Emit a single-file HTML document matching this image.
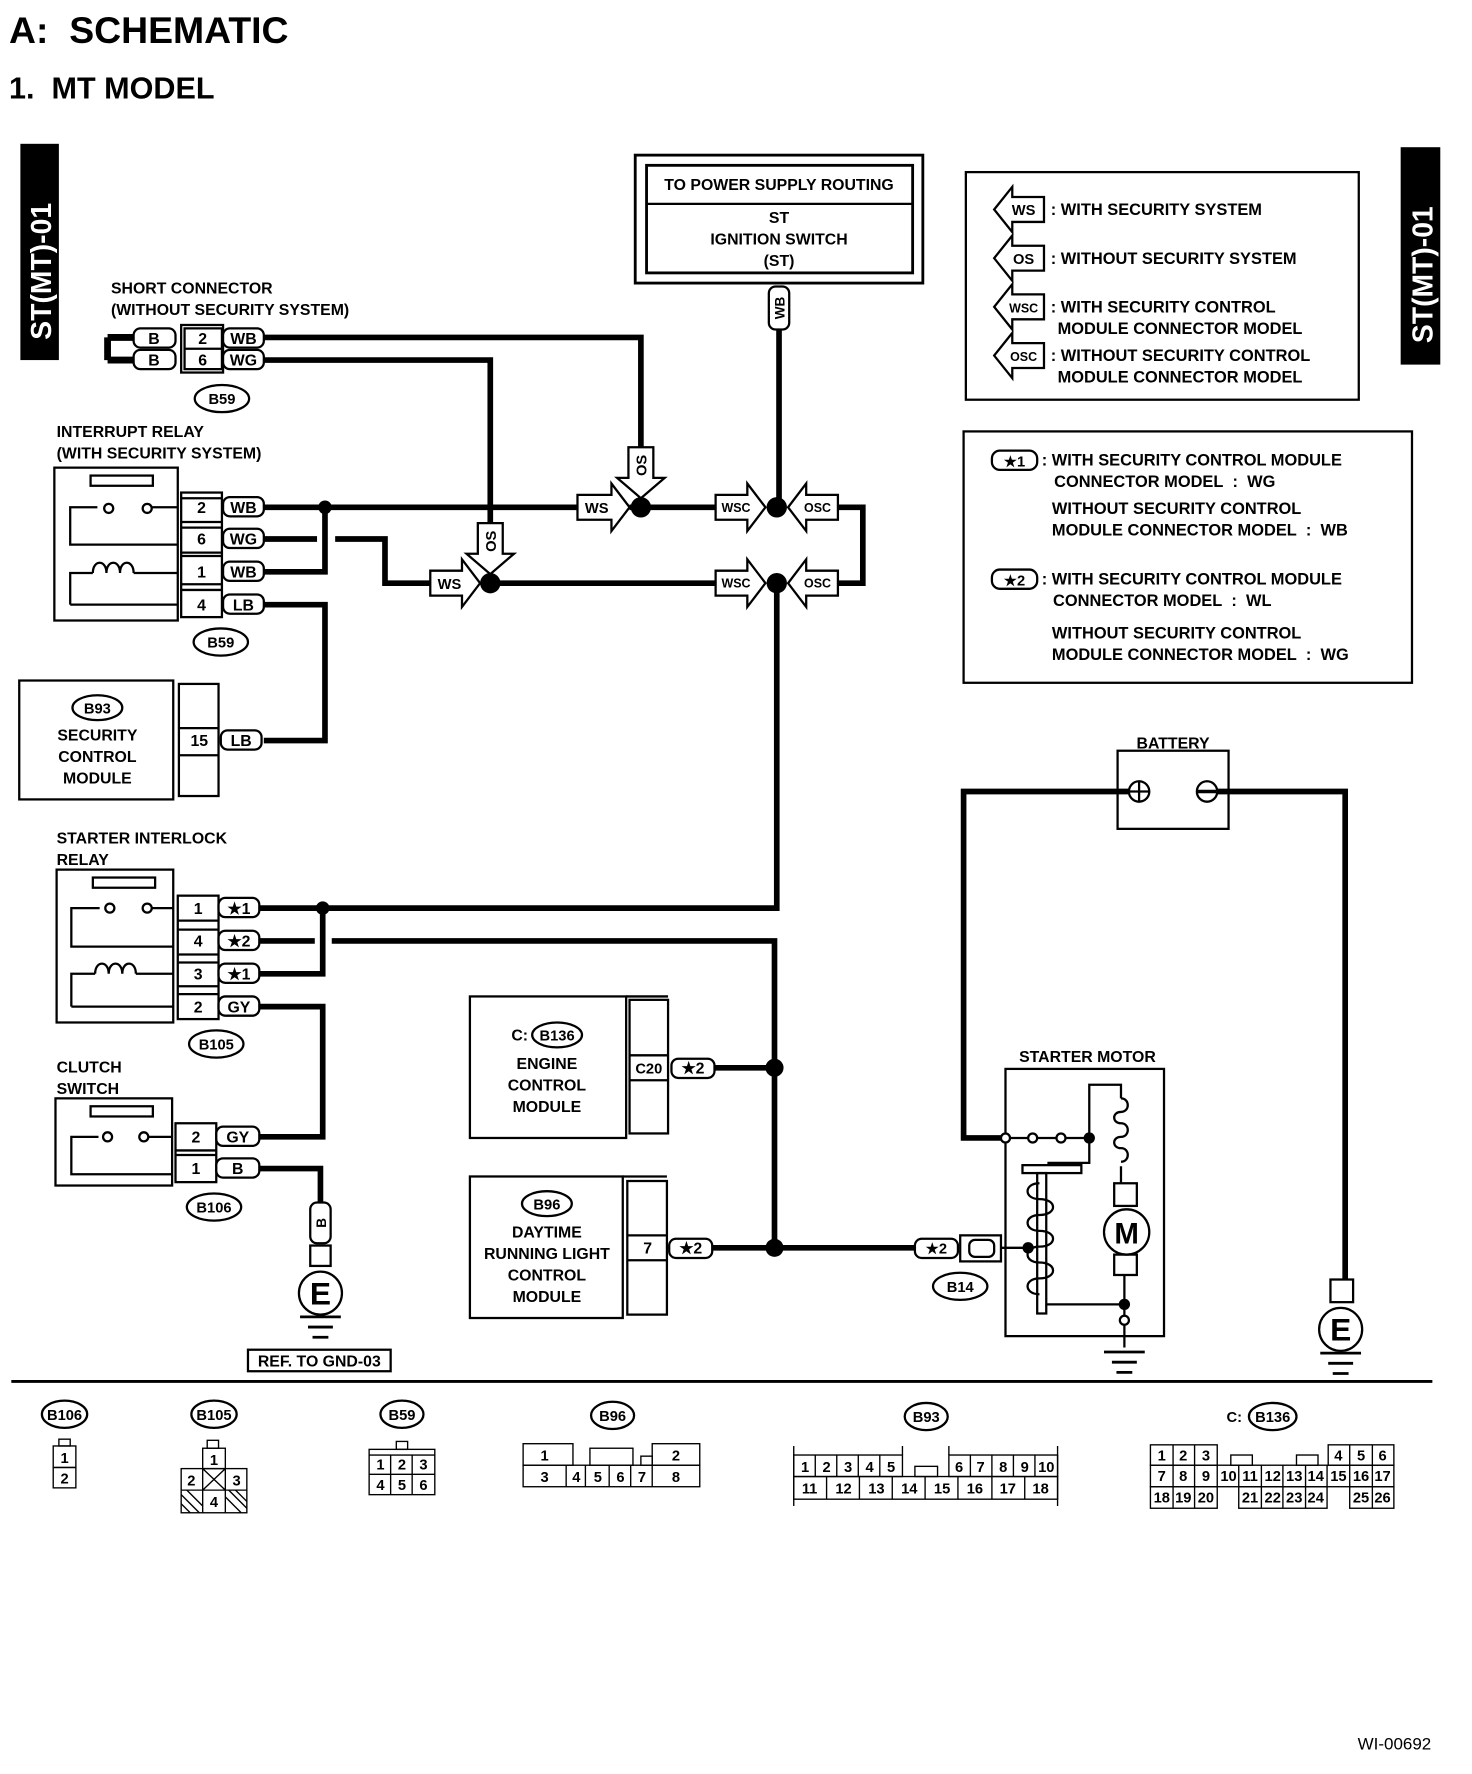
<!DOCTYPE html>
<html><head><meta charset="utf-8"><style>
html,body{margin:0;padding:0;background:#fff}
svg{display:block}
text{font-family:"Liberation Sans",Arial,sans-serif;font-weight:bold;fill:#000}
</style></head><body>
<svg width="1472" height="1774" viewBox="0 0 1300 1566.7" xmlns="http://www.w3.org/2000/svg">
<rect width="1300" height="1567" fill="#fff"/>
<text x="8" y="38" font-size="33">A:&#160; SCHEMATIC</text>
<text x="8" y="87" font-size="27">1.&#160; MT MODEL</text>

<!-- side tabs -->
<rect x="18" y="127" width="34" height="191" fill="#000"/>
<text transform="translate(45,300) rotate(-90)" font-size="25" style="fill:#fff">ST(MT)-01</text>
<rect x="1237" y="130" width="35" height="192" fill="#000"/>
<text transform="translate(1265,303) rotate(-90)" font-size="25" style="fill:#fff">ST(MT)-01</text>

<g fill="none" stroke="#000">
<rect x="561" y="137" width="254" height="113" stroke-width="2.5"/>
<rect x="571" y="146" width="235" height="95" stroke-width="2.5"/>
<line x1="571" y1="180" x2="806" y2="180" stroke-width="2"/>
<rect x="853" y="152" width="347" height="201" stroke-width="2"/>
<rect x="851" y="381" width="396" height="222" stroke-width="2"/>
</g>
<text x="688" y="168" font-size="14" text-anchor="middle">TO POWER SUPPLY ROUTING</text>
<text x="688" y="197" font-size="14" text-anchor="middle">ST</text>
<text x="688" y="216" font-size="14" text-anchor="middle">IGNITION SWITCH</text>
<text x="688" y="235" font-size="14" text-anchor="middle">(ST)</text>

<!-- legend 1 -->
<g fill="#fff" stroke="#000" stroke-width="2">
<path d="M922,174 H894 V165 L878,185 L894,205 V196 H922 Z"/>
<path d="M922,217 H894 V208 L878,228 L894,248 V239 H922 Z"/>
<path d="M922,260 H894 V251 L878,271 L894,291 V282 H922 Z"/>
<path d="M922,303 H894 V294 L878,314 L894,334 V325 H922 Z"/>
</g>
<text x="904" y="190" font-size="13" text-anchor="middle">WS</text>
<text x="904" y="233" font-size="13" text-anchor="middle">OS</text>
<text x="904" y="276" font-size="11" text-anchor="middle">WSC</text>
<text x="904" y="319" font-size="11" text-anchor="middle">OSC</text>
<g font-size="14.5">
<text x="928" y="190">: WITH SECURITY SYSTEM</text>
<text x="928" y="233">: WITHOUT SECURITY SYSTEM</text>
<text x="928" y="276">: WITH SECURITY CONTROL</text>
<text x="934" y="295">MODULE CONNECTOR MODEL</text>
<text x="928" y="319">: WITHOUT SECURITY CONTROL</text>
<text x="934" y="338">MODULE CONNECTOR MODEL</text>
</g>
<!-- legend 2 -->
<rect x="876" y="398" width="40" height="17" rx="7" fill="none" stroke="#000" stroke-width="2"/>
<text x="896" y="412" font-size="13" text-anchor="middle">★1</text>
<rect x="876" y="503" width="40" height="17" rx="7" fill="none" stroke="#000" stroke-width="2"/>
<text x="896" y="517" font-size="13" text-anchor="middle">★2</text>
<g font-size="14.5">
<text x="920" y="411">: WITH SECURITY CONTROL MODULE</text>
<text x="931" y="430">CONNECTOR MODEL&#160; :&#160; WG</text>
<text x="929" y="454">WITHOUT SECURITY CONTROL</text>
<text x="929" y="473">MODULE CONNECTOR MODEL&#160; :&#160; WB</text>
<text x="920" y="516">: WITH SECURITY CONTROL MODULE</text>
<text x="930" y="535">CONNECTOR MODEL&#160; :&#160; WL</text>
<text x="929" y="564">WITHOUT SECURITY CONTROL</text>
<text x="929" y="583">MODULE CONNECTOR MODEL&#160; :&#160; WG</text>
</g>

<!-- wires -->
<g fill="none" stroke="#000" stroke-width="5" stroke-linejoin="miter">
<path d="M688,290 V448"/>
<path d="M233,298 H566 V400"/>
<path d="M233,318 H433 V465"/>
<path d="M233,448 H510 M556,448 H632 M740,448 H762 V515 H740"/>
<path d="M233,476 H280 M296,476 H340 V515 H380"/>
<path d="M433,515 H632"/>
<path d="M233,505 H287 V448"/>
<path d="M233,534 H287 V654 H233"/>
<path d="M686,515 V802 H229"/>
<path d="M229,860 H285 V802"/>
<path d="M229,831 H278 M293,831 H684 V1102 H808"/>
<path d="M631,943 H684 M629,1102 H684"/>
<path d="M229,889 H285 V1004 H229"/>
<path d="M229,1032 H283 V1062"/>
<path d="M1000,699 H851 V1005 H888"/>
<path d="M1072,699 H1188 V1130"/>
<path d="M95,298 V318 M95,298 H118 M95,318 H118" stroke-width="6"/>
</g>
<g fill="#000">
<circle cx="287" cy="448" r="6"/><circle cx="566" cy="448" r="9"/><circle cx="686" cy="448" r="9"/>
<circle cx="433" cy="515" r="9"/><circle cx="686" cy="515" r="9"/>
<circle cx="285" cy="802" r="6"/><circle cx="684" cy="943" r="8"/><circle cx="684" cy="1102" r="8"/>
</g>

<!-- arrows -->
<g fill="#fff" stroke="#000" stroke-width="2">
<path d="M510,437 H540 V427 L556,448 L540,469 V459 H510 Z"/>
<path d="M632,437 H660 V427 L676,448 L660,469 V459 H632 Z"/>
<path d="M740,437 H712 V427 L696,448 L712,469 V459 H740 Z"/>
<path d="M380,504 H408 V494 L424,515 L408,536 V526 H380 Z"/>
<path d="M632,504 H660 V494 L676,515 L660,536 V526 H632 Z"/>
<path d="M740,504 H712 V494 L696,515 L712,536 V526 H740 Z"/>
<path d="M555,395 V422 H545 L566,440 L587,422 H577 V395 Z"/>
<path d="M422,462 V489 H412 L433,507 L454,489 H444 V462 Z"/>
</g>
<g font-size="13" text-anchor="middle">
<text x="527" y="453">WS</text><text x="397" y="520">WS</text>
<text x="650" y="452" font-size="11">WSC</text><text x="650" y="519" font-size="11">WSC</text>
<text x="722" y="452" font-size="11">OSC</text><text x="722" y="519" font-size="11">OSC</text>
<text transform="translate(571,411) rotate(-90)" text-anchor="middle">OS</text>
<text transform="translate(438,478) rotate(-90)" text-anchor="middle">OS</text>
</g>

<rect x="679" y="253" width="18" height="38" rx="6" fill="#fff" stroke="#000" stroke-width="2"/>
<text transform="translate(693,272) rotate(-90)" font-size="12" text-anchor="middle">WB</text>

<!-- short connector -->
<text x="98" y="259" font-size="14">SHORT CONNECTOR</text>
<text x="98" y="278" font-size="14">(WITHOUT SECURITY SYSTEM)</text>
<g fill="#fff" stroke="#000" stroke-width="2">
<rect x="118" y="290" width="37" height="17" rx="6"/><rect x="118" y="309" width="37" height="17" rx="6"/>
<rect x="160" y="287" width="37" height="42"/><rect x="163" y="290" width="33" height="36"/>
<line x1="163" y1="308" x2="196" y2="308"/>
<rect x="197" y="290" width="36" height="17" rx="6"/><rect x="197" y="309" width="36" height="17" rx="6"/>
<ellipse cx="196" cy="352" rx="24" ry="12"/>
</g>
<g font-size="14" text-anchor="middle">
<text x="136" y="304">B</text><text x="136" y="323">B</text>
<text x="179" y="304">2</text><text x="179" y="323">6</text>
<text x="215" y="304">WB</text><text x="215" y="323">WG</text>
<text x="196" y="357" font-size="13">B59</text>
</g>

<!-- interrupt relay -->
<text x="50" y="386" font-size="14">INTERRUPT RELAY</text>
<text x="50" y="405" font-size="14">(WITH SECURITY SYSTEM)</text>
<g fill="none" stroke="#000" stroke-width="2">
<rect x="48" y="413" width="109" height="135"/>
<rect x="80" y="420" width="55" height="9"/>
<path d="M86,448 H62 V481 H157 M131,448 H157"/>
<path d="M62,534 V506 H82 M118,506 H157 M62,534 H157"/>
<path d="M82,506 c0,-12 12,-12 12,0 c0,-12 12,-12 12,0 c0,-12 12,-12 12,0"/>
<circle cx="96" cy="449" r="4" fill="#fff"/><circle cx="130" cy="449" r="4" fill="#fff"/>
<rect x="160" y="435" width="36" height="110"/>
<path d="M160,440 H196 M160,461 H196 M160,466 H196 M160,488 H196 M160,491 H196 M160,516 H196 M160,521 H196"/>
</g>
<g fill="#fff" stroke="#000" stroke-width="2">
<rect x="197" y="439" width="36" height="17" rx="6"/><rect x="197" y="467" width="36" height="17" rx="6"/>
<rect x="197" y="496" width="36" height="17" rx="6"/><rect x="197" y="525" width="36" height="17" rx="6"/>
<ellipse cx="195" cy="567" rx="24" ry="12"/>
</g>
<g font-size="14" text-anchor="middle">
<text x="178" y="453">2</text><text x="178" y="481">6</text><text x="178" y="510">1</text><text x="178" y="539">4</text>
<text x="215" y="453">WB</text><text x="215" y="481">WG</text><text x="215" y="510">WB</text><text x="215" y="539">LB</text>
<text x="195" y="572" font-size="13">B59</text>
</g>

<!-- security control module -->
<g fill="none" stroke="#000" stroke-width="2">
<rect x="17" y="601" width="136" height="105"/>
<rect x="158" y="604" width="35" height="99"/>
<path d="M158,643 H193 M158,667 H193"/>
<ellipse cx="86" cy="625" rx="22" ry="11"/>
</g>
<rect x="195" y="645" width="36" height="17" rx="6" fill="#fff" stroke="#000" stroke-width="2"/>
<g font-size="14" text-anchor="middle">
<text x="86" y="630" font-size="13">B93</text>
<text x="86" y="654">SECURITY</text><text x="86" y="673">CONTROL</text><text x="86" y="692">MODULE</text>
<text x="176" y="659">15</text><text x="213" y="659">LB</text>
</g>

<!-- starter interlock relay -->
<text x="50" y="745" font-size="14">STARTER INTERLOCK</text>
<text x="50" y="764" font-size="14">RELAY</text>
<g fill="none" stroke="#000" stroke-width="2">
<rect x="50" y="768" width="103" height="135"/>
<rect x="82" y="775" width="55" height="9"/>
<path d="M88,802 H63 V836 H153 M133,802 H153"/>
<path d="M63,889 V860 H84 M120,860 H153 M63,889 H153"/>
<path d="M84,860 c0,-12 12,-12 12,0 c0,-12 12,-12 12,0 c0,-12 12,-12 12,0"/>
<circle cx="97" cy="802" r="4" fill="#fff"/><circle cx="130" cy="802" r="4" fill="#fff"/>
<rect x="157" y="791" width="36" height="109"/>
<path d="M157,813 H193 M157,821 H193 M157,843 H193 M157,850 H193 M157,871 H193 M157,878 H193"/>
</g>
<g fill="#fff" stroke="#000" stroke-width="2">
<rect x="193" y="793" width="36" height="17" rx="6"/><rect x="193" y="822" width="36" height="17" rx="6"/>
<rect x="193" y="851" width="36" height="17" rx="6"/><rect x="193" y="880" width="36" height="17" rx="6"/>
<ellipse cx="191" cy="922" rx="24" ry="12"/>
</g>
<g font-size="14" text-anchor="middle">
<text x="175" y="807">1</text><text x="175" y="836">4</text><text x="175" y="865">3</text><text x="175" y="894">2</text>
<text x="211" y="807">★1</text><text x="211" y="836">★2</text><text x="211" y="865">★1</text><text x="211" y="894">GY</text>
<text x="191" y="927" font-size="13">B105</text>
</g>

<!-- clutch switch -->
<text x="50" y="947" font-size="14">CLUTCH</text>
<text x="50" y="966" font-size="14">SWITCH</text>
<g fill="none" stroke="#000" stroke-width="2">
<rect x="49" y="970" width="103" height="77"/>
<rect x="80" y="977" width="55" height="9"/>
<path d="M87,1004 H63 V1037 H152 M131,1004 H152"/>
<circle cx="95" cy="1004" r="4" fill="#fff"/><circle cx="127" cy="1004" r="4" fill="#fff"/>
<rect x="155" y="992" width="36" height="52"/>
<path d="M155,1016 H191 M155,1020 H191"/>
</g>
<g fill="#fff" stroke="#000" stroke-width="2">
<rect x="191" y="995" width="38" height="17" rx="6"/><rect x="191" y="1023" width="38" height="17" rx="6"/>
<ellipse cx="189" cy="1066" rx="24" ry="12"/>
<rect x="274" y="1062" width="18" height="36" rx="6"/>
<rect x="274" y="1100" width="18" height="18"/>
<circle cx="283" cy="1142" r="19"/>
</g>
<g font-size="14" text-anchor="middle">
<text x="173" y="1009">2</text><text x="173" y="1037">1</text>
<text x="210" y="1009">GY</text><text x="210" y="1037">B</text>
<text x="189" y="1071" font-size="13">B106</text>
<text transform="translate(288,1080) rotate(-90)" font-size="12" text-anchor="middle">B</text>
<text x="283" y="1152" font-size="28">E</text>
</g>
<g stroke="#000" stroke-width="2.5">
<path d="M265,1163 H301 M272,1172 H294 M276,1181 H290"/>
</g>
<rect x="219" y="1192" width="126" height="19" fill="none" stroke="#000" stroke-width="2"/>
<text x="282" y="1207" font-size="14" text-anchor="middle">REF. TO GND-03</text>

<!-- ECM / DRL -->
<g fill="none" stroke="#000" stroke-width="2">
<rect x="415" y="880" width="138" height="125"/>
<rect x="556" y="883" width="34" height="118"/>
<path d="M553,880 H590 M556,932 H590 M556,954 H590"/>
<ellipse cx="492" cy="914" rx="22" ry="11"/>
<rect x="415" y="1039" width="135" height="125"/>
<rect x="554" y="1043" width="35" height="118"/>
<path d="M550,1039 H589 M554,1091 H589 M554,1113 H589"/>
<ellipse cx="483" cy="1063" rx="22" ry="11"/>
</g>
<g fill="#fff" stroke="#000" stroke-width="2">
<rect x="593" y="935" width="38" height="17" rx="6"/>
<rect x="591" y="1094" width="38" height="17" rx="6"/>
<rect x="808" y="1094" width="38" height="17" rx="6"/>
<rect x="848" y="1091" width="36" height="23"/>
<rect x="856" y="1095" width="22" height="15" rx="5"/>
<ellipse cx="848" cy="1136" rx="24" ry="12"/>
</g>
<g font-size="14" text-anchor="middle">
<text x="459" y="919">C:</text><text x="492" y="919" font-size="13">B136</text>
<text x="483" y="944">ENGINE</text><text x="483" y="963">CONTROL</text><text x="483" y="982">MODULE</text>
<text x="573" y="948" font-size="13">C20</text><text x="612" y="948">★2</text>
<text x="483" y="1068" font-size="13">B96</text>
<text x="483" y="1093">DAYTIME</text><text x="483" y="1112">RUNNING LIGHT</text>
<text x="483" y="1131">CONTROL</text><text x="483" y="1150">MODULE</text>
<text x="572" y="1107">7</text><text x="610" y="1107">★2</text>
<text x="827" y="1107" font-size="13">★2</text>
<text x="848" y="1141" font-size="13">B14</text>
</g>

<!-- battery -->
<text x="1036" y="661" font-size="14" text-anchor="middle">BATTERY</text>
<g fill="none" stroke="#000" stroke-width="2">
<rect x="987" y="663" width="98" height="69"/>
<circle cx="1006" cy="699" r="9" fill="#fff"/>
<path d="M997,699 H1015 M1006,690 V708"/>
<circle cx="1066" cy="699" r="9" fill="#fff"/>
<path d="M1058,699 H1074" stroke-width="3"/>
</g>
<g fill="#fff" stroke="#000" stroke-width="2">
<rect x="1175" y="1130" width="20" height="20"/>
<circle cx="1184" cy="1174" r="19"/>
</g>
<text x="1184" y="1184" font-size="28" text-anchor="middle">E</text>
<g stroke="#000" stroke-width="2.5"><path d="M1166,1195 H1202 M1173,1204 H1195 M1177,1213 H1191"/></g>

<!-- starter motor -->
<text x="900" y="938" font-size="14">STARTER MOTOR</text>
<g fill="none" stroke="#000" stroke-width="2">
<rect x="888" y="944" width="140" height="236"/>
<path d="M888,1005 H962 M962,1005 V958 H990 V970 M990,1030 V1045"/>
<path d="M990,970 c8,0 8,12 0,12 c-8,0 -8,10 0,10 c8,0 8,12 0,12 c-8,0 -8,10 0,10 c8,0 8,12 0,12"/>
<path d="M962,1005 V1027 H925"/>
<rect x="903" y="1029" width="52" height="7"/>
<rect x="916" y="1036" width="8" height="124"/>
<path d="M918,1045 c-14,0 -14,14 0,14 c16,0 16,14 0,14 c-14,0 -14,14 0,14 c16,0 16,14 0,14 c-14,0 -14,14 0,14 c16,0 16,14 0,14 c-14,0 -14,14 0,14"/>
<path d="M884,1102 H910 M924,1152 H993"/>
<rect x="984" y="1045" width="20" height="20"/>
<circle cx="995" cy="1088" r="20" fill="#fff"/>
<rect x="984" y="1108" width="20" height="18"/>
<path d="M993,1126 V1190"/>
</g>
<g fill="#fff" stroke="#000" stroke-width="2">
<circle cx="888" cy="1005" r="4"/><circle cx="912" cy="1005" r="4"/><circle cx="937" cy="1005" r="4"/>
<circle cx="993" cy="1166" r="4"/>
</g>
<g fill="#000"><circle cx="962" cy="1005" r="5"/><circle cx="908" cy="1102" r="5"/><circle cx="993" cy="1152" r="5"/></g>
<text x="995" y="1098" font-size="26" text-anchor="middle">M</text>
<g stroke="#000" stroke-width="2.5"><path d="M975,1194 H1011 M982,1203 H1004 M986,1212 H1000"/></g>

<line x1="10" y1="1220" x2="1265" y2="1220" stroke="#000" stroke-width="2.5"/>

<!-- connector diagrams -->
<g fill="none" stroke="#000" stroke-width="2">
<ellipse cx="57" cy="1249" rx="20" ry="12"/>
<ellipse cx="189" cy="1249" rx="20" ry="12"/>
<ellipse cx="355" cy="1249" rx="19" ry="12"/>
<ellipse cx="541" cy="1250" rx="19" ry="12"/>
<ellipse cx="818" cy="1251" rx="19" ry="12"/>
<ellipse cx="1124" cy="1251" rx="21" ry="12"/>
</g>
<g font-size="13" text-anchor="middle">
<text x="57" y="1254">B106</text><text x="189" y="1254">B105</text><text x="355" y="1254">B59</text>
<text x="541" y="1255">B96</text><text x="818" y="1256">B93</text><text x="1124" y="1256">B136</text>
<text x="1090" y="1256">C:</text>
</g>
<g fill="none" stroke="#000" stroke-width="1.2">
<rect x="52" y="1271" width="10" height="6"/><rect x="47" y="1277" width="20" height="19"/><rect x="47" y="1296" width="20" height="18"/>
<rect x="183" y="1272" width="10" height="7"/><rect x="179" y="1279" width="20" height="18"/>
<rect x="160" y="1297" width="58" height="39"/><path d="M179,1297 V1336 M199,1297 V1336 M160,1316 H218 M179,1297 L199,1316 M199,1297 L179,1316"/>
<path d="M160,1320 L176,1336 M160,1328 L168,1336 M165,1316 L179,1330 M202,1316 L218,1332 M199,1322 L213,1336 M208,1316 L218,1326"/>
<rect x="350" y="1273" width="10" height="7"/><rect x="326" y="1280" width="58" height="40"/>
<path d="M326,1285 H384 M326,1302 H384 M345,1285 V1320 M364,1285 V1320"/>
<rect x="462" y="1275" width="44" height="19"/><rect x="576" y="1275" width="42" height="19"/>
<rect x="521" y="1279" width="38" height="15"/><rect x="566" y="1286" width="10" height="8"/>
<rect x="462" y="1294" width="156" height="19"/>
<path d="M500,1294 V1313 M517,1294 V1313 M538,1294 V1313 M557,1294 V1313 M576,1294 V1313"/>
<rect x="701" y="1285" width="96" height="19"/><rect x="838" y="1285" width="96" height="19"/>
<rect x="701" y="1304" width="233" height="20"/>
<rect x="808" y="1295" width="20" height="9"/>
<path d="M701,1277 V1330 M934,1277 V1330 M797,1277 V1285 M838,1277 V1285"/>
<path d="M720,1285 V1304 M739,1285 V1304 M758,1285 V1304 M777,1285 V1304 M857,1285 V1304 M876,1285 V1304 M895,1285 V1304 M914,1285 V1304"/>
<path d="M730,1304 V1324 M759,1304 V1324 M788,1304 V1324 M817,1304 V1324 M846,1304 V1324 M876,1304 V1324 M905,1304 V1324"/>
<rect x="1016" y="1276" width="59" height="18"/><rect x="1173" y="1276" width="58" height="18"/>
<rect x="1016" y="1294" width="215" height="19"/>
<rect x="1016" y="1313" width="59" height="19"/><rect x="1094" y="1313" width="78" height="19"/><rect x="1192" y="1313" width="39" height="19"/>
<rect x="1087" y="1285" width="19" height="9"/><rect x="1145" y="1285" width="19" height="9"/>
<path d="M1036,1276 V1332 M1055,1276 V1332 M1192,1276 V1313 M1212,1276 V1332 M1075,1294 V1313 M1094,1294 V1313 M1114,1294 V1332 M1133,1294 V1332 M1153,1294 V1332 M1172,1294 V1313"/>
</g>
<g font-size="13" text-anchor="middle">
<text x="57" y="1292">1</text><text x="57" y="1310">2</text>
<text x="189" y="1294">1</text><text x="169" y="1312">2</text><text x="209" y="1312">3</text><text x="189" y="1331">4</text>
<text x="336" y="1298">1</text><text x="355" y="1298">2</text><text x="374" y="1298">3</text>
<text x="336" y="1316">4</text><text x="355" y="1316">5</text><text x="374" y="1316">6</text>
<text x="481" y="1290">1</text><text x="597" y="1290">2</text>
<text x="481" y="1309">3</text><text x="509" y="1309">4</text><text x="528" y="1309">5</text><text x="548" y="1309">6</text><text x="567" y="1309">7</text><text x="597" y="1309">8</text>
<text x="711" y="1300">1</text><text x="730" y="1300">2</text><text x="749" y="1300">3</text><text x="768" y="1300">4</text><text x="787" y="1300">5</text>
<text x="847" y="1300">6</text><text x="866" y="1300">7</text><text x="886" y="1300">8</text><text x="905" y="1300">9</text><text x="924" y="1300">10</text>
<text x="715" y="1319">11</text><text x="745" y="1319">12</text><text x="774" y="1319">13</text><text x="803" y="1319">14</text><text x="832" y="1319">15</text><text x="861" y="1319">16</text><text x="890" y="1319">17</text><text x="919" y="1319">18</text>
<text x="1026" y="1290">1</text><text x="1045" y="1290">2</text><text x="1065" y="1290">3</text>
<text x="1182" y="1290">4</text><text x="1202" y="1290">5</text><text x="1221" y="1290">6</text>
<text x="1026" y="1308">7</text><text x="1045" y="1308">8</text><text x="1065" y="1308">9</text><text x="1085" y="1308">10</text><text x="1104" y="1308">11</text><text x="1124" y="1308">12</text><text x="1143" y="1308">13</text><text x="1162" y="1308">14</text><text x="1182" y="1308">15</text><text x="1202" y="1308">16</text><text x="1221" y="1308">17</text>
<text x="1026" y="1327">18</text><text x="1045" y="1327">19</text><text x="1065" y="1327">20</text><text x="1104" y="1327">21</text><text x="1124" y="1327">22</text><text x="1143" y="1327">23</text><text x="1162" y="1327">24</text><text x="1202" y="1327">25</text><text x="1221" y="1327">26</text>
</g>

<text x="1264" y="1545" font-size="15" text-anchor="end" style="font-weight:normal">WI-00692</text>
</svg>
</body></html>
